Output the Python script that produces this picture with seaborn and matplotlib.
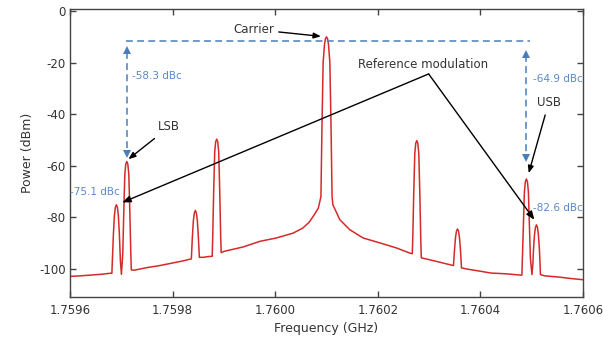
import matplotlib
matplotlib.use('Agg')
import matplotlib.pyplot as plt
import seaborn as sns
import pandas as pd

# Spectrum trace: frequency (GHz) and power (dBm)
freq_ghz = [
    1.7596000, 1.7596200, 1.7596400, 1.7596600, 1.7596780,
    # reference modulation, lower
    1.7596817, 1.7596827, 1.7596846, 1.7596866, 1.7596885, 1.7596905, 1.7596925, 1.7596944, 1.7596964,
    1.7596983, 1.7597003,
    # LSB
    1.7597030, 1.7597049, 1.7597069, 1.7597088, 1.7597108, 1.7597128, 1.7597147, 1.7597167, 1.7597186,
    1.7597196,
    1.7597250, 1.7597500, 1.7597750, 1.7598000, 1.7598200, 1.7598366,
    1.7598385, 1.7598405, 1.7598424, 1.7598444, 1.7598464, 1.7598483, 1.7598503, 1.7598522,
    1.7598600, 1.7598700, 1.7598772,
    1.7598782, 1.7598801, 1.7598821, 1.7598840, 1.7598860, 1.7598880, 1.7598899, 1.7598919, 1.7598938,
    1.7598948,
    1.7599000, 1.7599370, 1.7599700, 1.7600020, 1.7600350, 1.7600540, 1.7600660, 1.7600740,
    1.7600840, 1.7600891,
    # carrier
    1.7600911, 1.7600934, 1.7600960, 1.7600979, 1.7601000, 1.7601020, 1.7601039, 1.7601065,
    1.7601088, 1.7601108,
    1.7601124, 1.7601259, 1.7601455, 1.7601714, 1.7602040, 1.7602368, 1.7602630, 1.7602671,
    1.7602681, 1.7602700, 1.7602720, 1.7602739, 1.7602759, 1.7602779, 1.7602798, 1.7602818, 1.7602837,
    1.7602847,
    1.7603000, 1.7603250, 1.7603474,
    1.7603493, 1.7603513, 1.7603532, 1.7603552, 1.7603572, 1.7603591, 1.7603611, 1.7603630,
    1.7603750, 1.7604000, 1.7604200, 1.7604500, 1.7604780, 1.7604807,
    # USB
    1.7604817, 1.7604836, 1.7604856, 1.7604875, 1.7604895, 1.7604915, 1.7604934, 1.7604954, 1.7604973,
    1.7605003,
    # reference modulation, upper
    1.7605022, 1.7605032, 1.7605052, 1.7605071, 1.7605091, 1.7605111, 1.7605130, 1.7605150, 1.7605169,
    1.7605250, 1.7605500, 1.7605750, 1.7606000,
]
power_dbm = [
    -103.0, -102.8, -102.5, -102.2, -101.8,
    -101.8, -97.0, -87.0, -79.5, -76.2, -75.2, -76.2, -79.5, -87.0,
    -97.0, -102.2,
    -94.0, -78.0, -63.4, -59.4, -58.4, -59.4, -63.4, -78.0, -94.0,
    -100.5,
    -100.6, -99.6, -98.8, -97.8, -97.0, -96.2,
    -88.0, -81.4, -78.4, -77.4, -78.4, -81.4, -88.0, -95.6,
    -95.6, -95.3, -95.2,
    -88.0, -70.0, -54.7, -50.7, -49.7, -50.7, -54.7, -70.0, -88.0,
    -93.8,
    -93.3, -91.6, -89.4, -88.1, -86.2, -84.2, -82.0, -79.7,
    -76.5, -72.0,
    -45.0, -20.0, -13.0, -10.7, -10.0, -10.7, -13.0, -20.0,
    -45.0, -72.0,
    -75.2, -81.0, -84.9, -88.1, -90.0, -92.0, -94.0, -94.2,
    -88.0, -70.5, -55.3, -51.3, -50.3, -51.3, -55.3, -70.5, -89.0,
    -95.8,
    -96.5, -97.7, -98.8,
    -93.0, -88.0, -85.4, -84.6, -85.4, -88.0, -93.0, -99.7,
    -100.2, -101.0, -101.7, -102.0, -102.5, -102.5,
    -96.0, -83.0, -70.2, -66.2, -65.2, -66.2, -70.2, -83.0, -96.0,
    -102.3,
    -98.0, -93.0, -87.0, -84.0, -83.0, -84.0, -87.0, -93.0, -102.3,
    -102.8, -103.2, -103.8, -104.3,
]

x_ticks = [1.7596, 1.7598, 1.7600, 1.7602, 1.7604, 1.7606]
y_ticks = [0, -20, -40, -60, -80, -100]

TRACE_RED = '#d42a2a'
DASH_BLUE = '#4a7ebb'
TEXT_BLUE = '#5b8ac6'
DARK = '#333333'

sns.set_style('ticks', {'xtick.direction': 'in', 'ytick.direction': 'in'})
plt.rcParams['font.family'] = ['DejaVu Sans']
plt.rcParams['axes.unicode_minus'] = False

fig = plt.figure(figsize=(6.03, 3.42), dpi=100)
ax = fig.add_axes([0.116, 0.1316, 0.851, 0.842])

df = pd.DataFrame({'freq': freq_ghz, 'power': power_dbm})
sns.lineplot(data=df, x='freq', y='power', ax=ax, color=TRACE_RED, lw=1.1,
             estimator=None, sort=False)

ax.set_xlim(1.7596, 1.7606)
ax.set_ylim(-111, 0.8)
ax.set_xticks(x_ticks)
ax.set_xticklabels(['%.4f' % v for v in x_ticks])
ax.set_yticks(y_ticks)
ax.tick_params(top=True, right=True, length=4, width=1, color='#444444',
               labelsize=8.5, labelcolor=DARK)
ax.tick_params(axis='x', pad=5)
ax.tick_params(axis='y', pad=3)
for s in ax.spines.values():
    s.set_color('#444444')
    s.set_linewidth(1.0)
ax.set_xlabel('Frequency (GHz)', fontsize=9, color=DARK)
ax.set_ylabel('Power (dBm)', fontsize=9, color=DARK)

# dBc guide lines
lsb_f, usb_f = 1.7597108, 1.7604895
ax.plot([1.759709, 1.760496], [-11.5, -11.5], ls='--', dashes=(4.5, 2.8), color=DASH_BLUE, lw=1.1)
ax.plot([lsb_f, lsb_f], [-16, -54.5], ls='--', dashes=(4.5, 2.8), color=DASH_BLUE, lw=1.1)
ax.plot([usb_f, usb_f], [-17, -56], ls='--', dashes=(4.5, 2.8), color=DASH_BLUE, lw=1.1)
ax.plot([lsb_f, usb_f], [-15.3, -16.5], ls='none', marker='^', ms=6, color=DASH_BLUE, mew=0)
ax.plot([lsb_f, usb_f], [-55.5, -57], ls='none', marker='v', ms=6, color=DASH_BLUE, mew=0)

ax.text(1.759720, -25.2, '-58.3 dBc', color=TEXT_BLUE, fontsize=7.5, va='center', ha='left')
ax.text(1.759601, -70.4, '-75.1 dBc', color=TEXT_BLUE, fontsize=7.5, va='center', ha='left')
ax.text(1.760502, -26.5, '-64.9 dBc', color=TEXT_BLUE, fontsize=7.5, va='center', ha='left')
ax.text(1.760502, -76.5, '-82.6 dBc', color=TEXT_BLUE, fontsize=7.5, va='center', ha='left')

arrow_kw = dict(arrowstyle='-|>,head_length=0.5,head_width=0.2', color='black', lw=1.0)
ax.annotate('Carrier', xy=(1.760089, -9.8), xytext=(1.759958, -7.1), fontsize=8.5,
            ha='center', va='center', color=DARK, arrowprops=dict(arrow_kw, shrinkA=1, shrinkB=0))
ax.annotate('LSB', xy=(1.759714, -57.5), xytext=(1.759793, -45), fontsize=8.5,
            ha='center', va='center', color=DARK, arrowprops=dict(arrow_kw, shrinkA=2, shrinkB=0))
ax.annotate('USB', xy=(1.760494, -62.9), xytext=(1.760533, -35.5), fontsize=8.5,
            ha='center', va='center', color=DARK, arrowprops=dict(arrow_kw, shrinkA=2, shrinkB=0))

ax.text(1.760289, -20.9, 'Reference modulation', fontsize=8.5, ha='center', va='center', color=DARK)
vertex = (1.760299, -24.4)
ax.annotate('', xy=(1.759702, -74.3), xytext=vertex,
            arrowprops=dict(arrow_kw, shrinkA=0, shrinkB=0))
ax.annotate('', xy=(1.760505, -81.0), xytext=vertex,
            arrowprops=dict(arrow_kw, shrinkA=0, shrinkB=0))

fig.savefig('out.png', dpi=100)
